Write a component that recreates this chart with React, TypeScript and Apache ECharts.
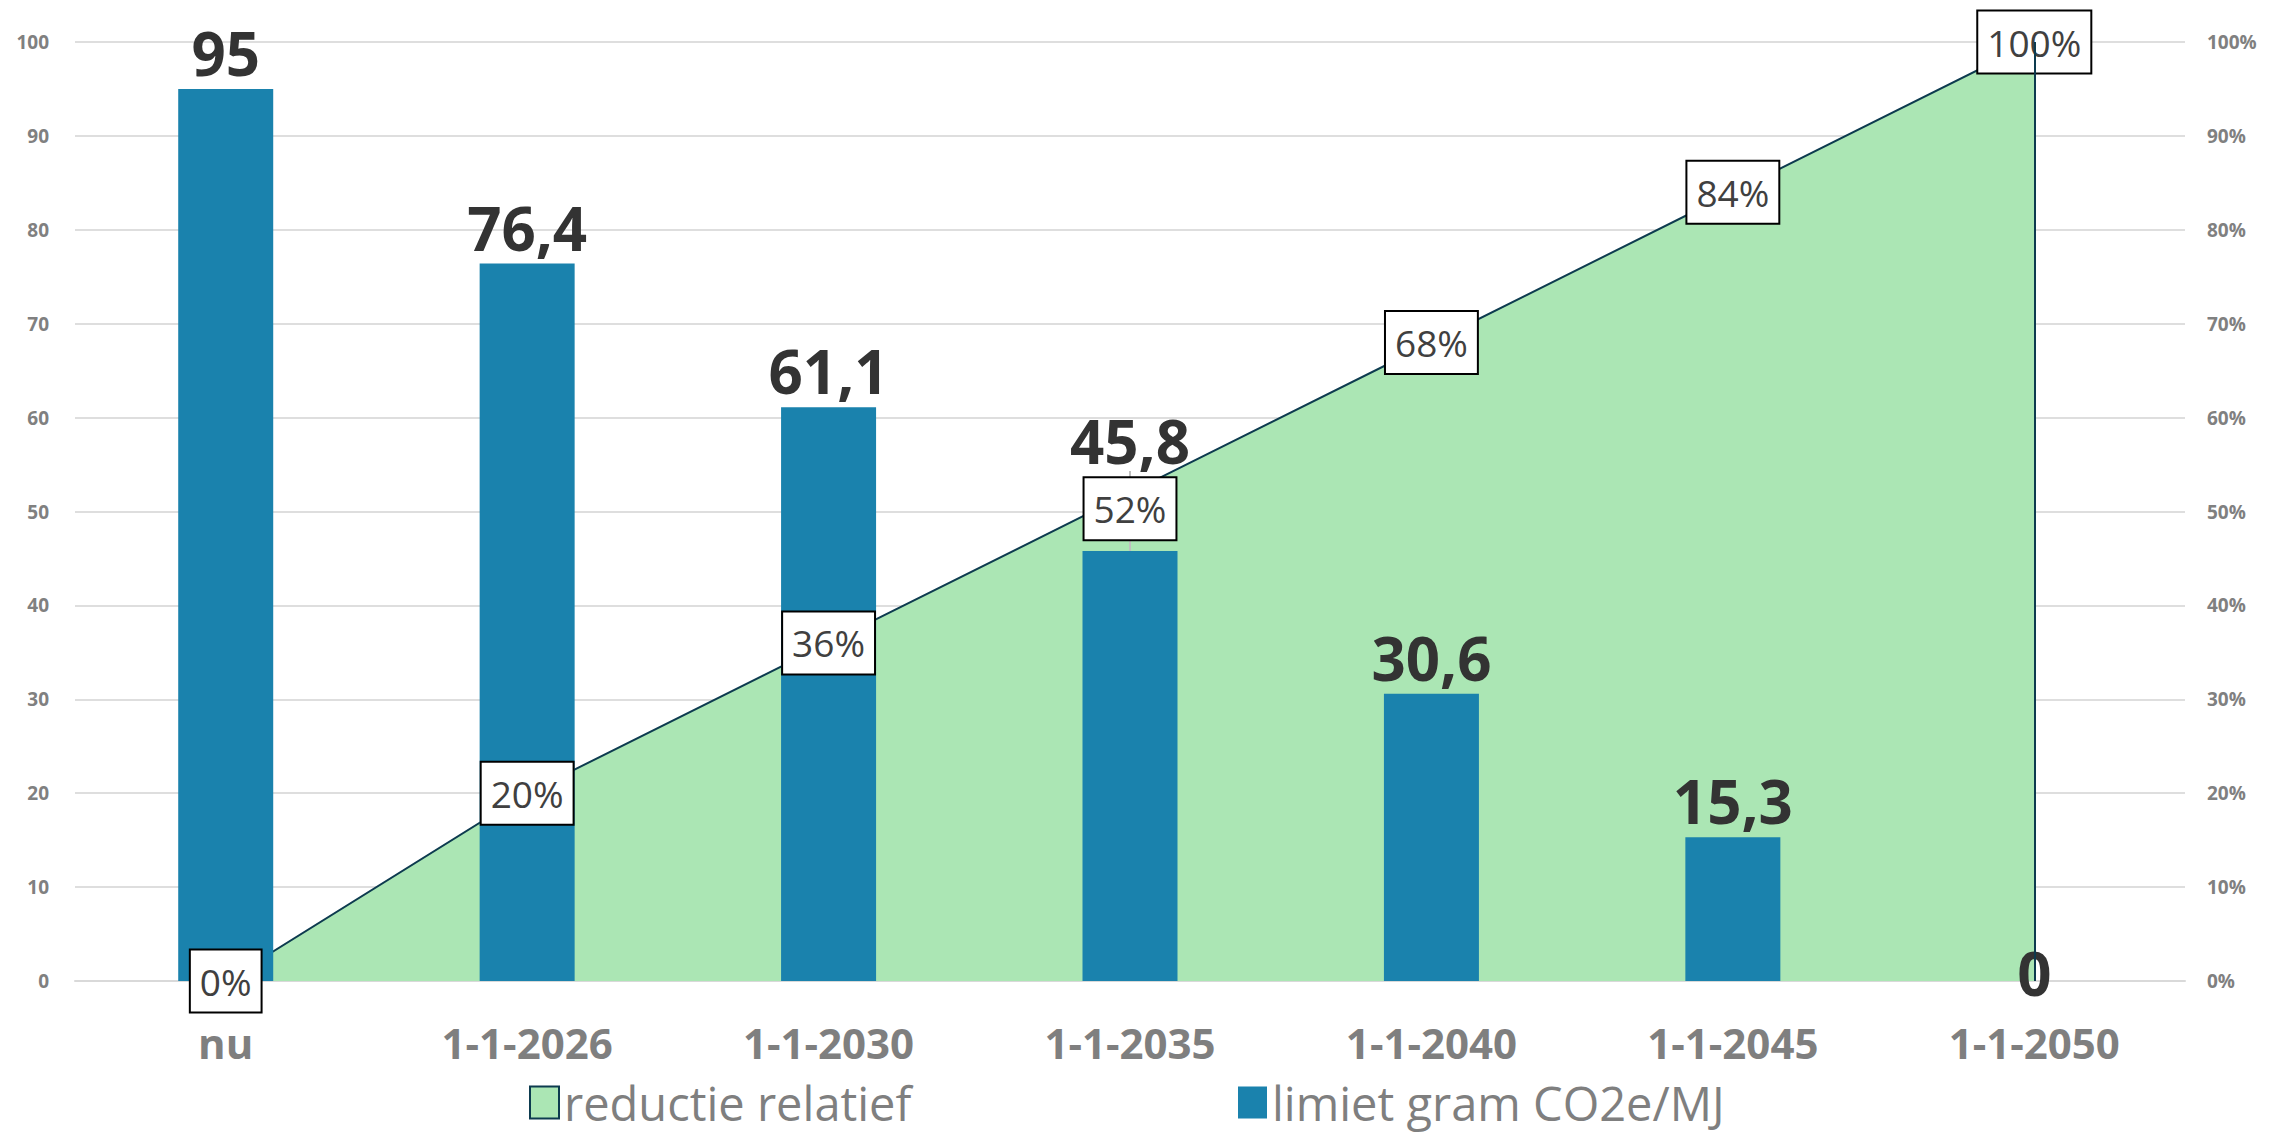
import React, { useEffect, useRef } from "react";
import * as echarts from "echarts";

const categories = ["nu", "1-1-2026", "1-1-2030", "1-1-2035", "1-1-2040", "1-1-2045", "1-1-2050"];
const limietValues = [95, 76.4, 61.1, 45.8, 30.6, 15.3, 0];
const reductieValues = [0, 20, 36, 52, 68, 84, 100];
const leftTickInterval = 10;
const rightTickInterval = 10;

const FONT = "Open Sans";

export default function App() {
  const ref = useRef<HTMLDivElement>(null);
  useEffect(() => {
    if (!ref.current) return;
    const chart = echarts.init(ref.current, null, { renderer: "svg" });
    const barData = limietValues.map((v, i) => {
      if (i === 3) {
        return { value: v, labelLine: { show: true, lineStyle: { color: "#bfbfbf", width: 2 } } };
      }
      if (v === 0) {
        return { value: v, label: { distance: -22 } };
      }
      return v;
    });
    const pctData = reductieValues.map((v, i) =>
      i === 3 ? { value: v, label: { offset: [0, 16] } } : v
    );
    const option: any = {
      animation: false,
      textStyle: { fontFamily: FONT },
      grid: { left: 75, right: 84, top: 42, bottom: 154, containLabel: false },
      legend: [
        {
          left: 524,
          top: 1074,
          itemWidth: 29,
          itemHeight: 32,
          itemGap: 10,
          textStyle: { fontSize: 47, color: "#7f7f7f", fontFamily: FONT },
          data: [
            {
              name: "reductie relatief",
              icon: "rect",
              itemStyle: { color: "#abe6b4", borderColor: "#0d3b4f", borderWidth: 2 },
            },
          ],
        },
        {
          left: 1233,
          top: 1074,
          itemWidth: 29,
          itemHeight: 32,
          itemGap: 10,
          textStyle: { fontSize: 47, color: "#7f7f7f", fontFamily: FONT },
          data: [{ name: "limiet gram CO2e/MJ", icon: "rect" }],
        },
      ],
      xAxis: {
        type: "category",
        data: categories,
        axisTick: { show: false },
        axisLine: { lineStyle: { color: "#d9d9d9", width: 2 } },
        axisLabel: { fontSize: 42, fontWeight: "bold", color: "#7f7f7f", margin: 40, fontFamily: FONT },
      },
      yAxis: [
        {
          type: "value",
          min: 0,
          max: 100,
          interval: leftTickInterval,
          splitLine: { lineStyle: { color: "#dedede", width: 2 } },
          axisLine: { show: false },
          axisTick: { show: false },
          axisLabel: { fontSize: 19, fontWeight: "bold", color: "#808080", margin: 26, fontFamily: FONT },
        },
        {
          type: "value",
          min: 0,
          max: 100,
          interval: rightTickInterval,
          position: "right",
          splitLine: { show: false },
          axisLine: { show: false },
          axisTick: { show: false },
          axisLabel: {
            fontSize: 19,
            fontWeight: "bold",
            color: "#808080",
            margin: 22,
            formatter: "{value}%",
            fontFamily: FONT,
          },
        },
      ],
      series: [
        {
          name: "reductie relatief",
          type: "line",
          yAxisIndex: 1,
          data: reductieValues,
          symbol: "none",
          z: 1,
          lineStyle: { color: "#0d3b4f", width: 2 },
          itemStyle: { color: "#abe6b4" },
          areaStyle: { color: "#abe6b4", opacity: 1 },
          markLine: {
            symbol: "none",
            silent: true,
            label: { show: false },
            lineStyle: { color: "#0d3b4f", width: 2, type: "solid" },
            data: [
              [
                { coord: [categories[categories.length - 1], 0] },
                { coord: [categories[categories.length - 1], reductieValues[reductieValues.length - 1]] },
              ],
            ],
          },
        },
        {
          name: "limiet gram CO2e/MJ",
          type: "bar",
          yAxisIndex: 0,
          data: barData,
          barWidth: 95,
          z: 2,
          itemStyle: { color: "#1a82ad" },
          label: {
            show: true,
            position: "top",
            distance: 6,
            fontSize: 60,
            fontWeight: "bold",
            color: "#333333",
            fontFamily: FONT,
            formatter: (p: any) => String(p.value).replace(".", ","),
          },
          labelLayout: (p: any) => (p.dataIndex === 3 ? { dy: -74 } : {}),
        },
        {
          name: "pct",
          type: "line",
          yAxisIndex: 1,
          data: pctData,
          symbol: "circle",
          symbolSize: 1,
          z: 3,
          silent: true,
          itemStyle: { color: "transparent" },
          lineStyle: { width: 0, color: "transparent" },
          label: {
            show: true,
            position: "inside",
            formatter: "{c}%",
            fontSize: 37,
            lineHeight: 44,
            color: "#404040",
            fontFamily: FONT,
            backgroundColor: "#ffffff",
            borderColor: "#000000",
            borderWidth: 2,
            padding: [9, 9, 8, 9],
          },
        },
      ],
    };
    chart.setOption(option);
    return () => chart.dispose();
  }, []);
  return (
    <div
      ref={ref}
      style={{ position: "absolute", left: 0, top: 0, width: 2269, height: 1135 }}
    />
  );
}
